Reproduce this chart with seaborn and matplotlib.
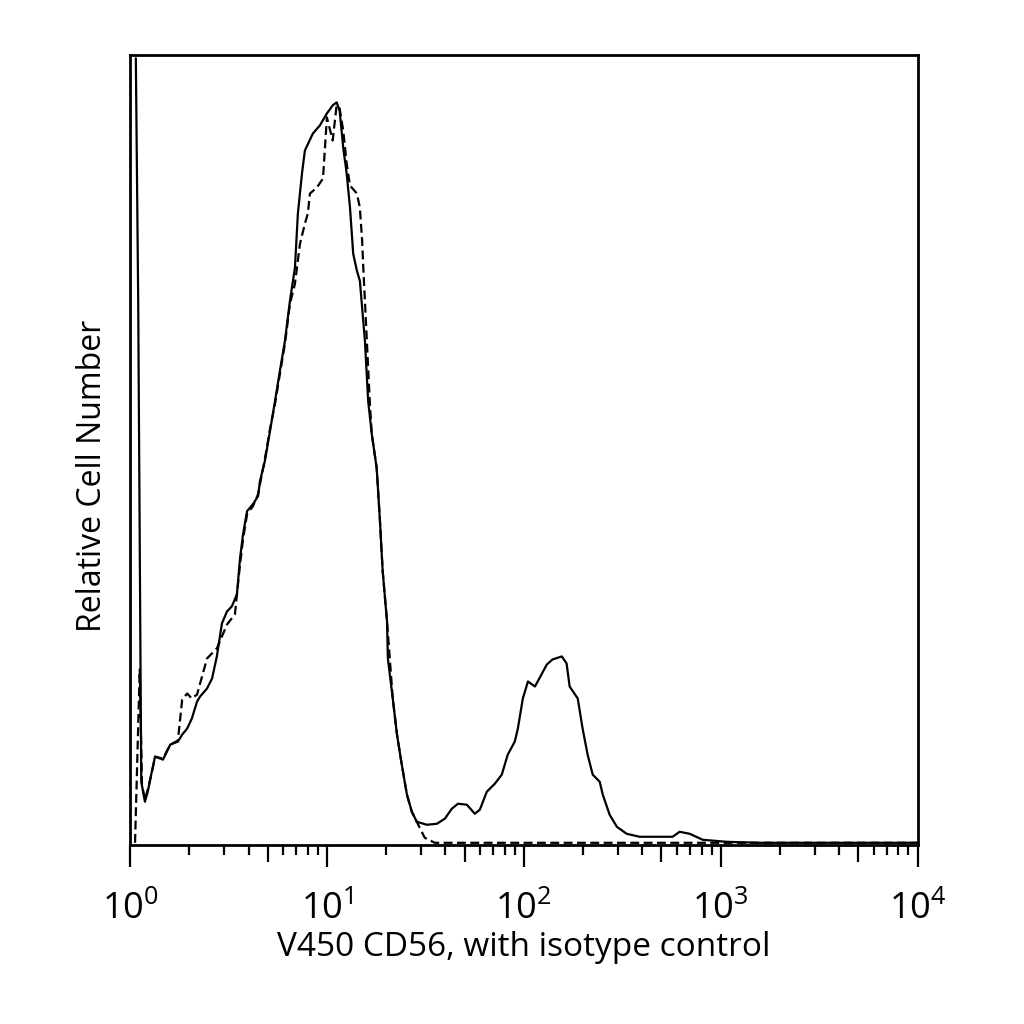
import math

import matplotlib
matplotlib.use("Agg")
import matplotlib.pyplot as plt
import matplotlib.ticker as mticker
import pandas as pd
import seaborn as sns

# CD56 stained sample (solid)
cd56_x = [1.07, 1.10, 1.14, 1.19, 1.23, 1.29, 1.34, 1.47, 1.60, 1.75, 1.84, 1.95,
          2.06, 2.19, 2.27, 2.46, 2.61, 2.76, 2.93, 3.11, 3.29, 3.49, 3.62, 3.75,
          3.93, 4.21, 4.47, 4.57, 4.84, 5.14, 5.45, 5.77, 6.12, 6.49, 6.88, 7.12,
          7.47, 7.73, 8.49, 9.21, 10.0, 10.7, 11.2, 11.6, 12.1, 12.6, 13.1, 13.6,
          14.2, 14.7, 15.6, 16.2, 16.9, 17.9, 18.6, 19.2, 20.2, 20.4, 21.6, 22.7,
          24.0, 25.5, 27.0, 28.6, 32.2, 36.2, 39.7, 43.1, 46.3, 51.4, 56.4, 59.8,
          64.9, 71.3, 77.3, 82.9, 90.0, 93.3, 98.9, 105, 114, 123, 131, 140,
          156, 165, 171, 188, 199, 211, 224, 243, 252, 273, 297, 333,
          388, 570, 619, 696, 811, 1072, 1578, 10000]
cd56_y = [785, 543, 63, 43, 53, 73, 88, 85, 100, 103, 110, 116,
          126, 143, 148, 156, 166, 188, 221, 233, 238, 250, 286, 310,
          333, 340, 348, 363, 383, 413, 443, 473, 503, 543, 576, 630,
          670, 693, 710, 718, 730, 738, 741, 733, 696, 670, 636, 590,
          573, 563, 503, 443, 410, 376, 323, 273, 223, 186, 146, 110,
          80, 50, 33, 23, 20, 21, 26, 36, 41, 40, 31, 35,
          53, 61, 70, 90, 103, 116, 146, 163, 158, 170, 180, 185,
          188, 181, 158, 146, 116, 90, 70, 63, 50, 30, 18, 11,
          8, 8, 13, 11, 5, 3, 2, 2]

# isotype control (dashed)
iso_x = [1.06, 1.12, 1.15, 1.19, 1.23, 1.29, 1.34, 1.47, 1.60, 1.75, 1.84, 1.95,
         2.06, 2.19, 2.46, 2.76, 3.11, 3.41, 3.62, 3.75, 3.93, 4.21, 4.47, 4.84,
         5.14, 5.45, 5.77, 6.12, 6.49, 6.88, 7.30, 7.73, 8.0, 8.2, 8.89, 9.55,
         10.0, 10.7, 11.2, 11.6, 12.1, 12.6, 13.1, 14.2, 14.7, 15.1, 15.3, 15.6,
         16.5, 16.9, 17.9, 18.6, 19.2, 20.2, 21.6, 22.7, 24.0, 25.5, 27.0, 28.6,
         31.4, 35.3, 10000]
iso_y = [2, 175, 60, 45, 55, 72, 88, 86, 100, 104, 145, 151,
         146, 150, 186, 196, 220, 230, 280, 305, 330, 338, 350, 385,
         415, 440, 470, 500, 540, 560, 600, 620, 630, 650, 656, 665,
         726, 703, 738, 735, 713, 680, 658, 650, 636, 603, 576, 543,
         443, 410, 376, 323, 273, 223, 146, 110, 80, 50, 33, 23,
         7, 2, 2]

df = pd.concat([
    pd.DataFrame({"fluor": cd56_x, "count": cd56_y, "sample": "V450 CD56"}),
    pd.DataFrame({"fluor": iso_x, "count": iso_y, "sample": "Isotype control"}),
])

sns.set_style("white")
plt.rcParams["font.family"] = ["Open Sans", "DejaVu Sans"]
plt.rcParams["mathtext.default"] = "regular"
plt.rcParams["text.color"] = "black"
plt.rcParams["axes.labelcolor"] = "black"
plt.rcParams["xtick.color"] = "black"

fig = plt.figure(figsize=(10.24, 10.24), dpi=100)
ax = fig.add_axes([0.127, 0.175, 0.769, 0.771])

sns.lineplot(data=df, x="fluor", y="count", style="sample",
             dashes={"V450 CD56": "", "Isotype control": (4, 2)},
             color="black", linewidth=1.6, estimator=None, sort=False,
             legend=False, ax=ax)

ax.set_xscale("log")
ax.set_xlim(1, 10000)
ax.set_ylim(0, 788)
ax.set_yticks([])


def decade_label(v, pos):
    if str(int(v))[0] != "1":
        return ""
    return r"$10^{%d}$" % round(math.log10(v))


# decades get labels, the 5s get a medium tick
ax.xaxis.set_major_locator(mticker.FixedLocator([1, 5, 10, 50, 100, 500, 1000, 5000, 10000]))
ax.xaxis.set_major_formatter(mticker.FuncFormatter(decade_label))
ax.xaxis.set_minor_locator(mticker.LogLocator(base=10, subs=[2, 3, 4, 6, 7, 8, 9]))
ax.xaxis.set_minor_formatter(mticker.NullFormatter())
ax.tick_params(axis="x", which="major", direction="out", length=16, width=1.6,
               labelsize=26, pad=18, bottom=True)
ax.tick_params(axis="x", which="minor", direction="out", length=7, width=1.6,
               bottom=True)
for t, v in zip(ax.xaxis.get_major_ticks(), ax.get_xticks()):
    if str(int(v))[0] == "5":
        t.tick1line.set_markersize(12)

for s in ax.spines.values():
    s.set_visible(True)
    s.set_color("black")
    s.set_linewidth(2)

ax.set_xlabel("V450 CD56, with isotype control", fontsize=24, labelpad=2)
ax.set_ylabel("Relative Cell Number", fontsize=23)
ax.yaxis.set_label_coords(-0.027, 0.467)

fig.savefig("out.png", dpi=100, facecolor="white")
